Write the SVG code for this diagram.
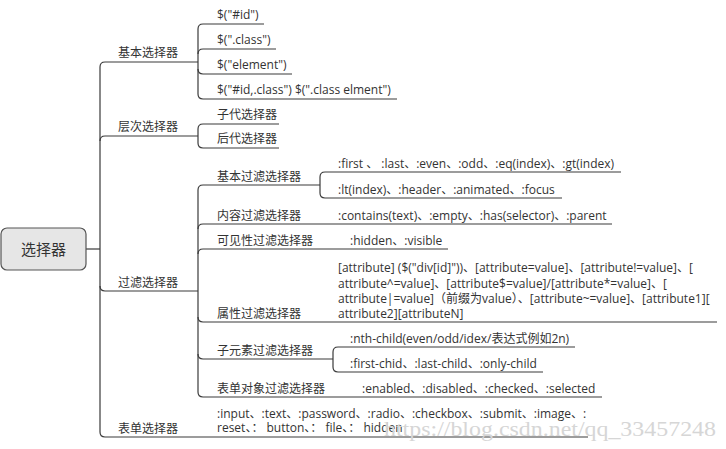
<svg xmlns="http://www.w3.org/2000/svg" width="726" height="449" viewBox="0 0 726 449">
<style>
.t{font-family:"Open Sans","Noto Sans CJK SC",sans-serif;font-size:12px;fill:#333}
.l{fill:none;stroke:#3a3a3a;stroke-width:1.2}
.root{fill:#e6e6e6;stroke:#555;stroke-width:1.2}
.wm{font-family:"Liberation Serif","Noto Sans CJK SC",serif;font-size:21px;fill:#d6d6d6}
</style>
<rect width="726" height="449" fill="#fff"/>
<g id="connectors">
  <path class="l" d="M86,249 H100"/>
  <path class="l" d="M105,62 Q100,62 100,67 V432 Q100,437 105,437 H588"/>
  <path class="l" d="M105,62 H198"/>
  <path class="l" d="M100,141 Q100,136 105,136 H198"/>
  <path class="l" d="M100,286 Q100,291 105,291 H198"/>
  <path class="l" d="M198,29 V94"/>
  <path class="l" d="M198,29 Q198,24 203,24 H264"/>
  <path class="l" d="M198,54 Q198,49 203,49 H276"/>
  <path class="l" d="M198,69 Q198,74 203,74 H292"/>
  <path class="l" d="M198,94 Q198,99 203,99 H397"/>
  <path class="l" d="M198,129 V143"/>
  <path class="l" d="M198,129 Q198,124 203,124 H279"/>
  <path class="l" d="M198,143 Q198,148 203,148 H279"/>
  <path class="l" d="M198,190 V392"/>
  <path class="l" d="M198,190 Q198,185 203,185 H320"/>
  <path class="l" d="M198,229 Q198,224 203,224 H612"/>
  <path class="l" d="M198,254 Q198,249 203,249 H448"/>
  <path class="l" d="M198,317 Q198,322 203,322 H717"/>
  <path class="l" d="M198,354 Q198,359 203,359 H333"/>
  <path class="l" d="M198,392 Q198,397 203,397 H602"/>
  <path class="l" d="M320,177 V193"/>
  <path class="l" d="M320,177 Q320,172 325,172 H621"/>
  <path class="l" d="M320,193 Q320,198 325,198 H562"/>
  <path class="l" d="M333,352 V367"/>
  <path class="l" d="M333,352 Q333,347 338,347 H575"/>
  <path class="l" d="M333,367 Q333,372 338,372 H543"/>
</g>
<g id="root">
  <rect class="root" x="1" y="228" width="85" height="42" rx="6"/>
  <text class="t" x="43.5" y="255" text-anchor="middle" style="font-size:15px">选择器</text>
</g>
<g id="n-basic"><text class="t" x="118" y="57">基本选择器</text></g>
<g id="n-id"><text class="t" x="217" y="19">$("#id")</text></g>
<g id="n-class"><text class="t" x="217" y="44">$(".class")</text></g>
<g id="n-element"><text class="t" x="217" y="69">$("element")</text></g>
<g id="n-multi"><text class="t" x="217" y="94">$("#id,.class") $(".class elment")</text></g>
<g id="n-level"><text class="t" x="118" y="131">层次选择器</text></g>
<g id="n-child"><text class="t" x="217" y="119">子代选择器</text></g>
<g id="n-desc"><text class="t" x="217" y="143">后代选择器</text></g>
<g id="n-filter"><text class="t" x="118" y="287">过滤选择器</text></g>
<g id="n-basicfilter"><text class="t" x="217" y="181">基本过滤选择器</text></g>
<g id="n-bf1"><text class="t" x="338" y="168">:first 、 :last、:even、:odd、:eq(index)、:gt(index)</text></g>
<g id="n-bf2"><text class="t" x="338" y="194">:lt(index)、:header、:animated、:focus</text></g>
<g id="n-content"><text class="t" x="217" y="220">内容过滤选择器</text><text class="t" x="338" y="220">:contains(text)、:empty、:has(selector)、:parent</text></g>
<g id="n-visible"><text class="t" x="217" y="245">可见性过滤选择器</text><text class="t" x="350" y="245">:hidden、:visible</text></g>
<g id="n-attr"><text class="t" x="217" y="318">属性过滤选择器</text>
  <text class="t" x="338" y="272">[attribute] ($("div[id]"))、[attribute=value]、[attribute!=value]、[</text>
  <text class="t" x="338" y="288">attribute^=value]、[attribute$=value]/[attribute*=value]、[</text>
  <text class="t" x="338" y="303">attribute|=value]（前缀为value）、[attribute~=value]、[attribute1][</text>
  <text class="t" x="338" y="318">attribute2][attributeN]</text>
</g>
<g id="n-childfilter"><text class="t" x="217" y="355">子元素过滤选择器</text></g>
<g id="n-cf1"><text class="t" x="350" y="343">:nth-child(even/odd/idex/表达式例如2n)</text></g>
<g id="n-cf2"><text class="t" x="350" y="368">:first-chid、:last-child、:only-child</text></g>
<g id="n-formobj"><text class="t" x="217" y="393">表单对象过滤选择器</text><text class="t" x="362" y="393">:enabled、:disabled、:checked、:selected</text></g>
<g id="n-form"><text class="t" x="118" y="433">表单选择器</text>
  <text class="t" x="217" y="418">:input、:text、:password、:radio、:checkbox、:submit、:image、:</text>
  <text class="t" x="217" y="432">reset、： button、： file、： hidden</text>
</g>
<text class="wm" x="384" y="436" textLength="332" lengthAdjust="spacingAndGlyphs">https://blog.csdn.net/qq_33457248</text>
</svg>
